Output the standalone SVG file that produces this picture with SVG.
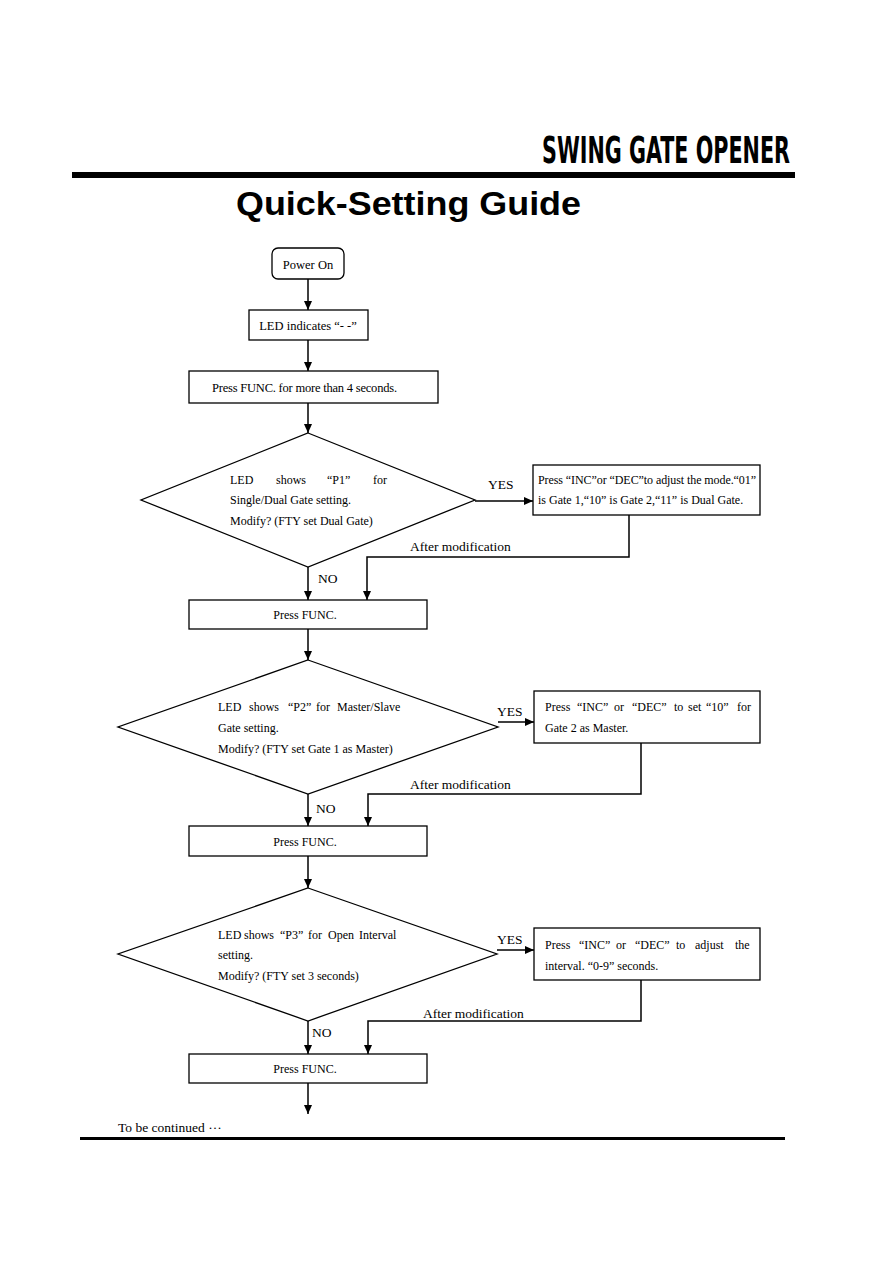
<svg xmlns="http://www.w3.org/2000/svg" width="893" height="1263" viewBox="0 0 893 1263">
<defs>
<marker id="ah" markerWidth="10" markerHeight="10" refX="9" refY="5" orient="auto" markerUnits="userSpaceOnUse">
<path d="M0,1 L9,5 L0,9 Z" fill="#000"/>
</marker>
<style>
.b{fill:#fff;stroke:#000;stroke-width:1.3}
.t{font-family:"Liberation Serif","Times New Roman",serif;font-size:12px;fill:#000}
.c{text-anchor:middle}
.l{font-family:"Liberation Serif","Times New Roman",serif;font-size:13.5px;fill:#000}
.a{fill:none;stroke:#000;stroke-width:1.5;marker-end:url(#ah)}
</style>
</defs>
<rect width="893" height="1263" fill="#fff"/>
<g id="header">
<text x="542" y="163" font-family="'Liberation Sans Narrow','DejaVu Sans Condensed','Liberation Sans',sans-serif" font-weight="bold" font-size="38" textLength="248" lengthAdjust="spacingAndGlyphs">SWING GATE OPENER</text>
<rect x="72" y="172" width="723" height="6" fill="#000"/>
<text x="236" y="215" font-family="'Liberation Sans',Arial,sans-serif" font-weight="bold" font-size="34" textLength="345" lengthAdjust="spacingAndGlyphs">Quick-Setting Guide</text>
</g>
<g id="connectors">
<line class="a" x1="308" y1="279" x2="308" y2="310"/>
<line class="a" x1="308" y1="340" x2="308" y2="371"/>
<line class="a" x1="308" y1="403" x2="308" y2="433"/>
<line class="a" x1="308" y1="567" x2="308" y2="600"/>
<line class="a" x1="475" y1="501" x2="533" y2="501"/>
<polyline class="a" points="629,515 629,557 367,557 367,600"/>
<line class="a" x1="308" y1="629" x2="308" y2="660"/>
<line class="a" x1="308" y1="794" x2="308" y2="826"/>
<line class="a" x1="498" y1="722" x2="534" y2="722"/>
<polyline class="a" points="641,743 641,794 368,794 368,826"/>
<line class="a" x1="308" y1="856" x2="308" y2="888"/>
<line class="a" x1="308" y1="1021" x2="308" y2="1054"/>
<line class="a" x1="497" y1="950" x2="534" y2="950"/>
<polyline class="a" points="641,980 641,1021 368,1021 368,1054"/>
<line class="a" x1="308" y1="1083" x2="308" y2="1114"/>
<text class="l" x="488" y="489">YES</text>
<text class="l" x="318" y="583">NO</text>
<text class="l" x="410" y="551">After modification</text>
<text class="l" x="497" y="716">YES</text>
<text class="l" x="316" y="813">NO</text>
<text class="l" x="410" y="789">After modification</text>
<text class="l" x="497" y="944">YES</text>
<text class="l" x="312" y="1037">NO</text>
<text class="l" x="423" y="1018">After modification</text>
</g>
<g id="n-power">
<rect class="b" x="272" y="248" width="72" height="31" rx="6"/>
<text class="t c" x="308" y="269" style="font-size:12.5px">Power On</text>
</g>
<g id="n-led">
<rect class="b" x="249" y="310" width="119" height="30"/>
<text class="t c" x="308" y="330" style="font-size:12.5px">LED indicates “- -”</text>
</g>
<g id="n-func4">
<rect class="b" x="189" y="371" width="249" height="32"/>
<text class="t" x="212" y="392" style="font-size:12.5px" textLength="185">Press FUNC.  for more than 4 seconds.</text>
</g>
<g id="n-d1">
<polygon class="b" points="308,433 475,500 308,567 141,500"/>
<text class="t" y="484"><tspan x="230">LED</tspan><tspan x="276">shows</tspan><tspan x="327">“P1”</tspan><tspan x="373">for</tspan></text>
<text class="t" x="230" y="504">Single/Dual Gate setting.</text>
<text class="t" x="230" y="525">Modify? (FTY set Dual Gate)</text>
</g>
<g id="n-b1">
<rect class="b" x="533" y="465" width="227" height="50"/>
<text class="t" x="538" y="484" textLength="218">Press “INC”or “DEC”to adjust the mode.“01”</text>
<text class="t" x="538" y="504">is Gate 1,“10” is Gate 2,“11” is Dual Gate.</text>
</g>
<g id="n-func1">
<rect class="b" x="189" y="600" width="238" height="29"/>
<text class="t c" x="305" y="619">Press FUNC.</text>
</g>
<g id="n-d2">
<polygon class="b" points="308,660 498,727 308,794 118,727"/>
<text class="t" y="711"><tspan x="218">LED</tspan><tspan x="249">shows</tspan><tspan x="288">“P2”</tspan><tspan x="316">for</tspan><tspan x="337">Master/Slave</tspan></text>
<text class="t" x="218" y="732">Gate setting.</text>
<text class="t" x="218" y="753">Modify? (FTY set Gate 1 as Master)</text>
</g>
<g id="n-b2">
<rect class="b" x="534" y="691" width="226" height="52"/>
<text class="t" y="711"><tspan x="545">Press</tspan><tspan x="577">“INC”</tspan><tspan x="614">or</tspan><tspan x="632">“DEC”</tspan><tspan x="674">to</tspan><tspan x="688">set</tspan><tspan x="706">“10”</tspan><tspan x="737">for</tspan></text>
<text class="t" x="545" y="732">Gate 2 as Master.</text>
</g>
<g id="n-func2">
<rect class="b" x="189" y="826" width="238" height="30"/>
<text class="t c" x="305" y="846">Press FUNC.</text>
</g>
<g id="n-d3">
<polygon class="b" points="308,888 497,954 308,1021 118,954"/>
<text class="t" y="939"><tspan x="218">LED</tspan><tspan x="244">shows</tspan><tspan x="280">“P3”</tspan><tspan x="308">for</tspan><tspan x="328">Open</tspan><tspan x="359">Interval</tspan></text>
<text class="t" x="218" y="959">setting.</text>
<text class="t" x="218" y="980">Modify? (FTY set 3 seconds)</text>
</g>
<g id="n-b3">
<rect class="b" x="534" y="928" width="226" height="52"/>
<text class="t" y="949"><tspan x="545">Press</tspan><tspan x="579">“INC”</tspan><tspan x="616">or</tspan><tspan x="635">“DEC”</tspan><tspan x="676">to</tspan><tspan x="695">adjust</tspan><tspan x="735">the</tspan></text>
<text class="t" x="545" y="970">interval. “0-9” seconds.</text>
</g>
<g id="n-func3">
<rect class="b" x="189" y="1054" width="238" height="29"/>
<text class="t c" x="305" y="1073">Press FUNC.</text>
</g>
<g id="footer">
<text class="l" x="118" y="1132">To be continued ···</text>
<rect x="80" y="1137" width="705" height="3" fill="#000"/>
</g>
</svg>
